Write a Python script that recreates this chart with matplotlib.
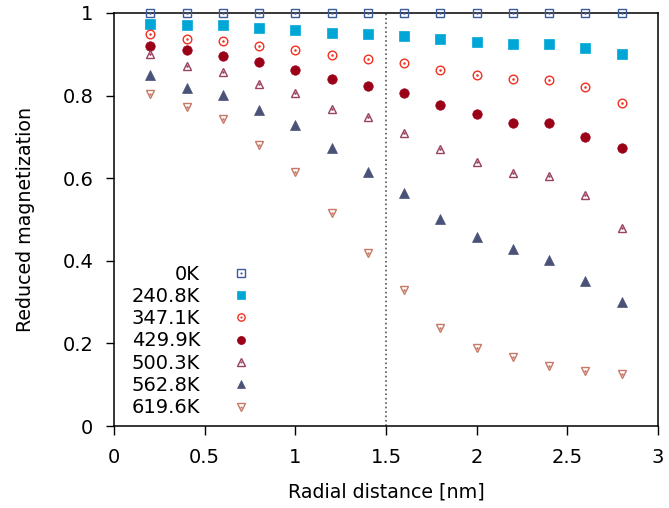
import numpy as np
import matplotlib.pyplot as plt
from matplotlib.legend_handler import HandlerTuple

r = [0.2, 0.4, 0.6, 0.8, 1.0, 1.2, 1.4, 1.6, 1.8, 2.0, 2.2, 2.4, 2.6, 2.8]

temps = ['0K', '240.8K', '347.1K', '429.9K', '500.3K', '562.8K', '619.6K']
m_0 = [1.0] * 14
m_240 = [0.973, 0.971, 0.971, 0.964, 0.959, 0.952, 0.948, 0.944, 0.937, 0.930, 0.926, 0.926, 0.915, 0.901]
m_347 = [0.948, 0.938, 0.932, 0.921, 0.910, 0.898, 0.888, 0.878, 0.863, 0.849, 0.839, 0.837, 0.820, 0.783]
m_430 = [0.920, 0.910, 0.896, 0.881, 0.861, 0.840, 0.823, 0.806, 0.778, 0.756, 0.734, 0.734, 0.700, 0.672]
m_500 = [0.900, 0.872, 0.858, 0.828, 0.807, 0.768, 0.749, 0.710, 0.670, 0.639, 0.612, 0.605, 0.560, 0.480]
m_563 = [0.850, 0.818, 0.801, 0.765, 0.730, 0.673, 0.615, 0.565, 0.502, 0.458, 0.428, 0.402, 0.350, 0.300]
m_620 = [0.805, 0.772, 0.743, 0.680, 0.614, 0.516, 0.420, 0.329, 0.238, 0.189, 0.166, 0.146, 0.133, 0.127]
series = [m_0, m_240, m_347, m_430, m_500, m_563, m_620]

# (marker, colour, filled, centre dot)
styles = [('s', '#3b5b9e', False, True),
          ('s', '#00a6d6', True, False),
          ('o', '#f03020', False, True),
          ('o', '#9a0018', True, False),
          ('^', '#9a4060', False, True),
          ('^', '#4a5278', True, False),
          ('v', '#c87868', False, True)]

plt.rcParams['font.family'] = 'DejaVu Sans'
fig = plt.figure(figsize=(6.69, 5.08), dpi=100)
ax = fig.add_axes([114 / 669, 1 - 426 / 508, 544 / 669, 413 / 508])

handles = []
for y, (mk, c, filled, dot) in zip(series, styles):
    if filled:
        h, = ax.plot(r, y, ls='none', marker=mk, ms=6.8, mfc=c, mec=c, mew=0.5,
                     clip_on=False, zorder=3)
        handles.append(h)
    else:
        h, = ax.plot(r, y, ls='none', marker=mk, ms=6.2, mfc='none', mec=c, mew=1.0,
                     clip_on=False, zorder=3)
        d, = ax.plot(r, y, ls='none', marker='o', ms=1.8, mfc=c, mec=c, mew=0,
                     clip_on=False, zorder=3)
        handles.append((h, d))

ax.axvline(1.5, color='#555555', ls=':', lw=1.2)

ax.set_xlim(0, 3)
ax.set_ylim(0, 1)
ax.set_xticks([0, 0.5, 1, 1.5, 2, 2.5, 3])
ax.set_xticklabels(['0', '0.5', '1', '1.5', '2', '2.5', '3'])
ax.set_yticks([0, 0.2, 0.4, 0.6, 0.8, 1])
ax.set_yticklabels(['0', '0.2', '0.4', '0.6', '0.8', '1'])
ax.tick_params(direction='out', length=6.5, width=1, labelsize=14, top=False, right=False)
ax.tick_params(axis='x', pad=9)
ax.tick_params(axis='y', pad=9, length=6)
for s in ax.spines.values():
    s.set_linewidth(1.1)
ax.set_xlabel('Radial distance [nm]', fontsize=13.7, labelpad=11.5)
ax.set_ylabel('Reduced magnetization', fontsize=13.7, labelpad=20)

ax.legend(handles, temps, loc='lower left', bbox_to_anchor=(0.018, 0.002), markerfirst=False,
          frameon=False, fontsize=14, handlelength=3.0, handletextpad=0.6,
          labelspacing=0.17, borderaxespad=0.0, markerscale=0.85,
          handler_map={tuple: HandlerTuple(ndivide=1, pad=0)})

fig.savefig('out.png', dpi=100)
